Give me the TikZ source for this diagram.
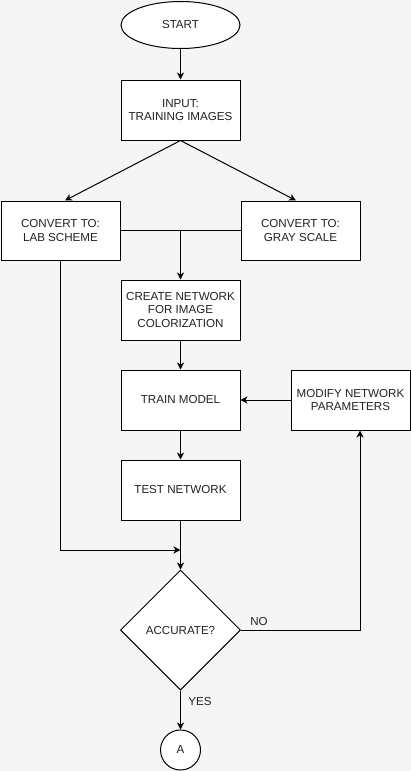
\documentclass[tikz,border=0pt]{standalone}
\usepackage{fontspec}
\setmainfont{Liberation Sans}
\usetikzlibrary{shapes.geometric,arrows.meta}
\definecolor{bgcol}{HTML}{F5F5F5}
\definecolor{txtcol}{HTML}{222222}
\tikzset{
  box/.style={draw,fill=white,line width=1pt,minimum width=119pt,minimum height=60pt,align=center,inner sep=0pt},
  startend/.style={draw,fill=white,ellipse,line width=1pt,minimum width=119pt,minimum height=47pt,inner sep=0pt},
  decision/.style={draw,fill=white,diamond,line width=1pt,minimum width=120pt,minimum height=120pt,inner sep=0pt},
  conn/.style={draw,fill=white,circle,line width=1pt,minimum size=40pt,inner sep=0pt},
  flow/.style={line width=1pt,-{Stealth[length=7pt,width=7pt,inset=2pt]}}
}
\begin{document}
\begin{tikzpicture}[x=1pt,y=-1pt,font=\fontsize{11.6}{13.8}\selectfont,text=txtcol]
  \fill[bgcol] (0,0) rectangle (411,771);
  \useasboundingbox (0,0) rectangle (411,771);
  \draw
    (180.5,25) node[startend] (start){START}
    (180.5,110) node[box] (input){INPUT:\\TRAINING IMAGES}
    (60.5,230.5) node[box,minimum height=59pt] (lab){CONVERT TO:\\LAB SCHEME}
    (300.5,230.5) node[box,minimum height=59pt] (gray){CONVERT TO:\\GRAY SCALE}
    (180.5,310) node[box] (create){CREATE NETWORK\\FOR IMAGE\\COLORIZATION}
    (180.5,400) node[box] (train){TRAIN MODEL}
    (350.5,400) node[box] (modify){MODIFY NETWORK\\PARAMETERS}
    (180.5,490) node[box] (test){TEST NETWORK}
    (180.5,630) node[decision] (acc){ACCURATE?}
    (180.5,750) node[conn] (a){A};
  \coordinate (join) at (180.5,230.5);
  \coordinate (merge) at (180.5,550);
  \begin{scope}[flow]
    \draw (start) to (input);
    \draw (input.south) to ([xshift=4.5]lab.north);
    \draw (input.south) to ([xshift=-4.5]gray.north);
    \draw[-] (lab.east) to (gray.west);
    \draw (join) to (create.north);
    \draw (create) to (train);
    \draw (train) to (test);
    \draw (modify) to (train);
    \draw (lab.south) |- (merge);
    \draw (test) to (acc.north);
    \draw (acc.east) -| ([xshift=9.5]modify.south);
    \draw (acc.south) to (a.north);
  \end{scope}
  \node at (259,621) (no){NO};
  \node at (200,701) (yes){YES};
\end{tikzpicture}
\end{document}
